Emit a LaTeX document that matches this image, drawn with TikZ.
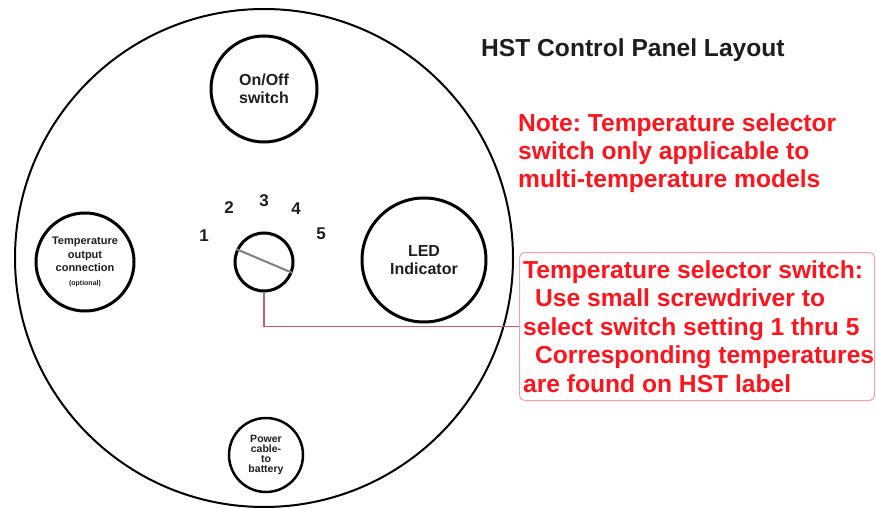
\documentclass[tikz,border=0pt]{standalone}
\usepackage{fontspec}
\setmainfont{Liberation Sans}
\frenchspacing
\definecolor{notered}{RGB}{255,20,30}
\definecolor{boxpink}{RGB}{242,160,170}
\definecolor{leadred}{RGB}{200,95,115}
\definecolor{inkgray}{RGB}{30,30,30}
\begin{document}
\begin{tikzpicture}[x=1pt,y=-1pt,
  part/.style={circle,draw=black,line width=3pt,inner sep=0pt,align=center,text=inkgray,
    font=\bfseries\fontsize{16}{18}\selectfont},
  tiny/.style={font=\bfseries\fontsize{11}{13.5}\selectfont},
  dial/.style={text=inkgray,font=\bfseries\fontsize{17}{17}\selectfont},
  redtext/.style={text=notered,anchor=base west,inner sep=0pt,align=left,
    font=\bfseries\fontsize{24.6}{28.4}\selectfont}]
\useasboundingbox (0,0) rectangle (876,508);
\node[circle,draw,line width=2pt,minimum size=498pt] (panel) at (264,258) {};
\node[part,minimum size=106pt] (onoff) at (264,89) {On/Off\\switch};
\node[part,minimum size=124pt] (led) at (424,260) {LED\\Indicator};
\node[part,tiny,minimum size=98pt] (tempout) at (85,262)
  {Temperature\\output\\connection\\{\fontsize{7}{9}\selectfont(optional)}};
\node[part,tiny,line width=2.5pt,minimum size=74pt,font=\bfseries\fontsize{10.5}{9.8}\selectfont] (power) at (266,455)
  {Power\\cable-\\to\\battery};
\node[circle,draw,line width=3pt,minimum size=58pt] (knob) at (264,262) {};
\draw[gray,line width=2pt] (knob.155) -- (knob.-21);
\foreach \n/\x/\y in {1/204/236,2/229/208,3/264/201,4/296/209,5/321/234}
  \node[dial] (dial\n) at (\x,\y) {\n};
\node[text=inkgray,anchor=base west,inner sep=0pt,font=\bfseries\fontsize{24.6}{28}\selectfont] (title) at (481,57)
  {HST Control Panel Layout};
\node[redtext] (note) at (518,188)
  {Note: Temperature selector\\switch only applicable to\\multi-temperature models};
\node[draw=boxpink,line width=1pt,rounded corners=5pt,minimum width=355pt,minimum height=148pt,anchor=north west] (selbox) at (519,252) {};
\node[redtext] (seltext) at (523,392)
  {Temperature selector switch:\\\hspace{12pt}Use small screwdriver to\\select switch setting 1 thru 5\\\hspace{12pt}Corresponding temperatures\\are found on HST label};
\draw[leadred,line width=1.2pt] (knob.south) |- (selbox.west);
\end{tikzpicture}
\end{document}
